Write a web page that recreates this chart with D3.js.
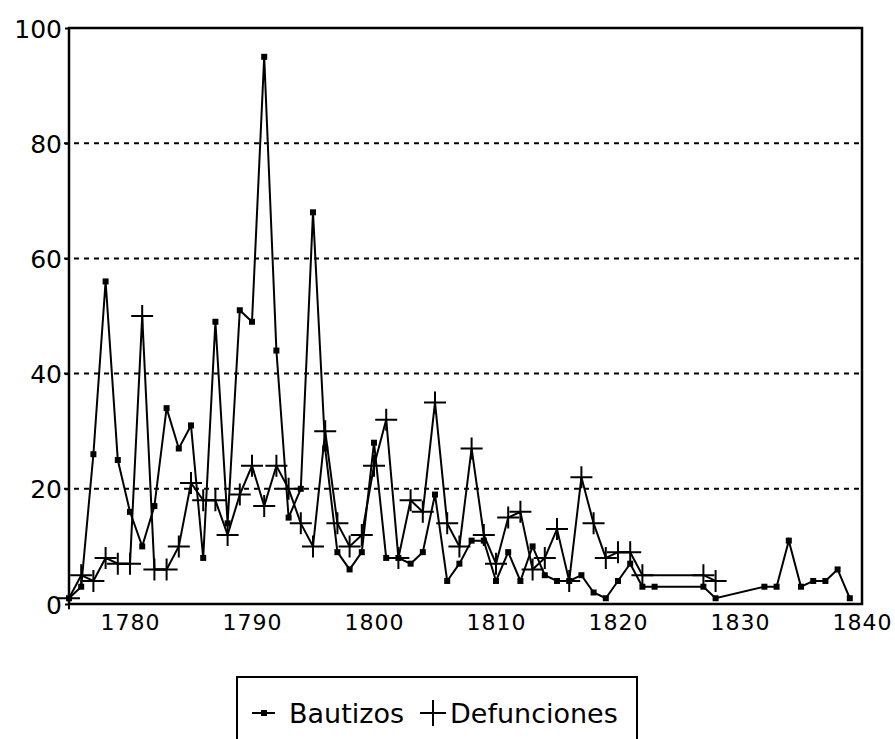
<!DOCTYPE html>
<meta charset="utf-8">
<style>
body { margin: 0; background: #fff; }
svg text { font-family: "DejaVu Sans", sans-serif; fill: #000; }
.grid line { stroke: #000; stroke-width: 2; stroke-dasharray: 5,5; }
.frame { fill: none; stroke: #000; stroke-width: 2.5; }
.serie { fill: none; stroke: #000; stroke-width: 2; }
</style>
<svg width="895" height="739"></svg>
<script src="https://cdn.jsdelivr.net/npm/d3@7"></script>
<script>

// años y valores
var bautYears = [1775,1776,1777,1778,1779,1780,1781,1782,1783,1784,1785,1786,1787,1788,1789,1790,
  1791,1792,1793,1794,1795,1796,1797,1798,1799,1800,1801,1802,1803,1804,1805,1806,1807,1808,1809,
  1810,1811,1812,1813,1814,1815,1816,1817,1818,1819,1820,1821,1822,1823,1827,1828,
  1832,1833,1834,1835,1836,1837,1838,1839];
var bautizos = [1,3,26,56,25,16,10,17,34,27,31,8,49,14,51,49,
  95,44,15,20,68,27,9,6,9,28,8,8,7,9,19,4,7,11,11,
  4,9,4,10,5,4,4,5,2,1,4,7,3,3,3,1,
  3,3,11,3,4,4,6,1];

var defYears = [1775,1776,1777,1778,1779,1780,1781,1782,1783,1784,1785,1786,1787,1788,1789,1790,
  1791,1792,1793,1794,1795,1796,1797,1798,1799,1800,1801,1802,1803,1804,1805,1806,1807,1808,1809,
  1810,1811,1812,1813,1814,1815,1816,1817,1818,1819,1820,1821,1822,1827,1828];
var defunciones = [1,5,4,8,7,7,50,6,6,10,21,18,18,12,19,24,
  17,24,20,14,10,30,14,10,12,24,32,8,18,16,35,14,10,27,12,
  7,15,16,6,8,13,4,22,14,8,9,9,5,5,4];

var xTicks = [1780,1790,1800,1810,1820,1830,1840];
var yTicks = [0,20,40,60,80,100];

var svg = d3.select("svg");
var pLeft = 69, pRight = 862, pTop = 28, pBottom = 604;

var x = d3.scaleLinear().domain([1775, 1840]).range([pLeft, pRight]);
var y = d3.scaleLinear().domain([0, 100]).range([pBottom, pTop]);

var bData = bautYears.map(function(d, i) { return {year: d, v: bautizos[i]}; });
var dData = defYears.map(function(d, i) { return {year: d, v: defunciones[i]}; });

// lineas punteadas
svg.append("g")
    .attr("class", "grid")
  .selectAll("line")
  .data([20,40,60,80])
  .enter().append("line")
    .attr("x1", pLeft - 5)
    .attr("x2", pRight)
    .attr("y1", function(d) { return y(d); })
    .attr("y2", function(d) { return y(d); });

// eje y
var yAxis = svg.append("g")
    .attr("transform", "translate(" + pLeft + ",0)")
    .call(d3.axisLeft(y).tickValues(yTicks).tickSize(4).tickPadding(3));
yAxis.select(".domain").remove();
yAxis.selectAll("line").attr("stroke", "#000").attr("stroke-width", 2);
yAxis.selectAll("text")
    .attr("font-size", 25)
    .attr("font-family", "DejaVu Sans")
    .attr("dy", "0.36em");

// eje x
var xAxis = svg.append("g")
    .attr("transform", "translate(0," + pBottom + ")")
    .call(d3.axisBottom(x).tickValues(xTicks).tickFormat(d3.format("d")).tickSize(0).tickPadding(10));
xAxis.select(".domain").remove();
xAxis.selectAll("text")
    .attr("font-size", 22)
    .attr("font-family", "DejaVu Sans")
    .attr("letter-spacing", 1)
    .attr("dy", "0.71em");

svg.append("rect")
    .attr("class", "frame")
    .attr("x", pLeft)
    .attr("y", pTop)
    .attr("width", pRight - pLeft)
    .attr("height", pBottom - pTop);

var line = d3.line()
    .x(function(d) { return x(d.year); })
    .y(function(d) { return y(d.v); });

svg.append("path").datum(dData).attr("class", "serie").attr("d", line);
svg.append("path").datum(bData).attr("class", "serie").attr("d", line);

// cruces de defunciones
svg.append("g")
  .selectAll("path")
  .data(dData)
  .enter().append("path")
    .attr("d", "M-11,0H11M0,-11V11")
    .attr("stroke", "#000")
    .attr("stroke-width", 2)
    .attr("transform", function(d) { return "translate(" + x(d.year) + "," + y(d.v) + ")"; });

// cuadritos de bautizos
svg.append("g")
  .selectAll("rect")
  .data(bData)
  .enter().append("rect")
    .attr("x", function(d) { return x(d.year) - 3; })
    .attr("y", function(d) { return y(d.v) - 3; })
    .attr("width", 6)
    .attr("height", 6)
    .attr("fill", "#000");

// leyenda
var leg = svg.append("g");
leg.append("rect")
    .attr("x", 237).attr("y", 677)
    .attr("width", 400).attr("height", 80)
    .attr("fill", "none").attr("stroke", "#000").attr("stroke-width", 2);
leg.append("line")
    .attr("x1", 252).attr("x2", 275).attr("y1", 713).attr("y2", 713)
    .attr("stroke", "#000").attr("stroke-width", 2);
leg.append("rect")
    .attr("x", 261).attr("y", 710).attr("width", 6).attr("height", 6).attr("fill", "#000");
leg.append("text")
    .attr("x", 289).attr("y", 723)
    .attr("font-size", 27)
    .text("Bautizos");
leg.append("path")
    .attr("d", "M420,713H446M433,700V726")
    .attr("stroke", "#000").attr("stroke-width", 2);
leg.append("text")
    .attr("x", 450).attr("y", 723)
    .attr("font-size", 27)
    .text("Defunciones");

</script>
